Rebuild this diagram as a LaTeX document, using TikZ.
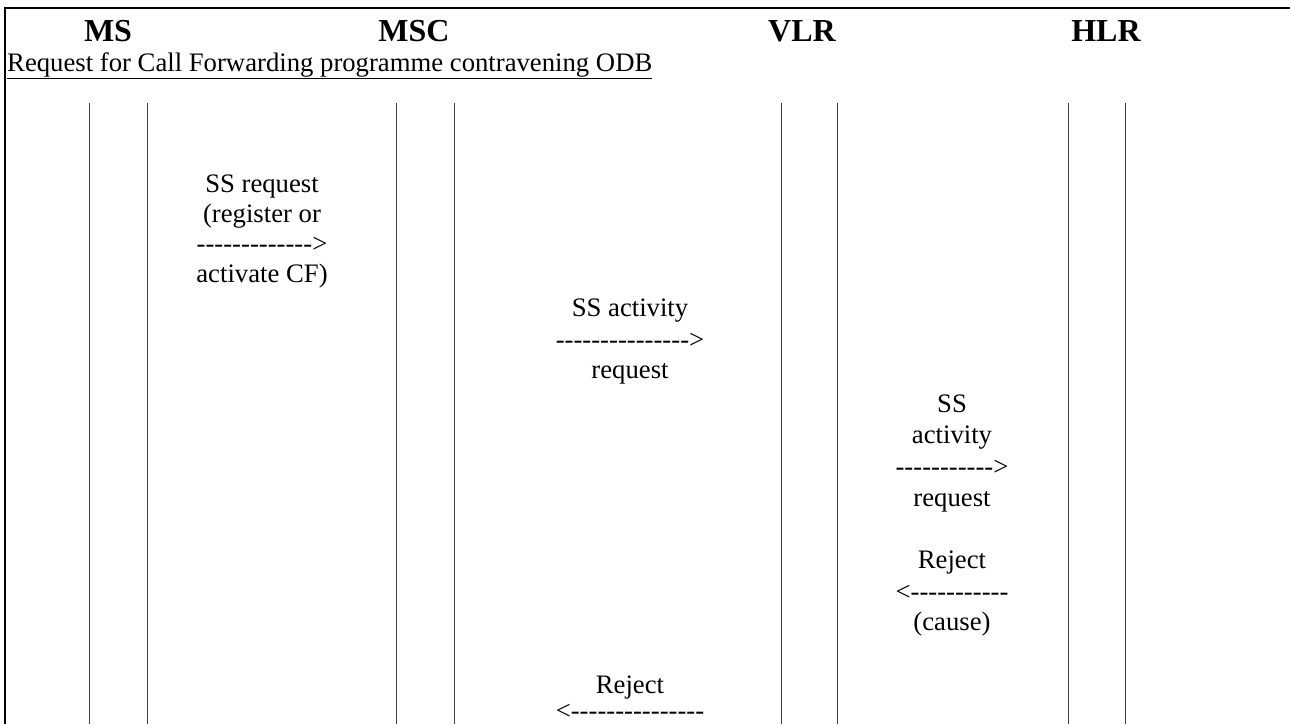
\documentclass[tikz,border=0pt]{standalone}
\usepackage{fontspec}
\setmainfont{Liberation Serif}
\newcommand\hyphs[1]{\foreach \i in {1,...,#1}{-\kern0pt}}
\begin{document}
\begin{tikzpicture}[x=1pt,y=-1pt,
  hdr/.style={font=\fontsize{32}{36}\selectfont\bfseries, anchor=base, inner sep=0pt},
  msg/.style={font=\fontsize{26.7}{31}\selectfont, anchor=base, inner sep=0pt},
  life/.style={line width=0.8pt, black!75},
  frame/.style={line width=2pt}]
\useasboundingbox (0,0) rectangle (1290,724);
% frame
\coordinate (fbl) at (5,724);
\coordinate (ftl) at (5,8);
\coordinate (ftr) at (1290,8);
\draw[frame] (fbl) -- (ftl) -- (ftr);
% headers
\node[hdr] (ms)  at (108,41) {MS};
\node[hdr] (msc) at (414,41) {MSC};
\node[hdr] (vlr) at (802,41) {VLR};
\node[hdr] (hlr) at (1106,41) {HLR};
\node[msg, anchor=base west] (title) at (7,71) {\underline{Request for Call Forwarding programme contravening ODB}};
% lifelines
\foreach \n/\x in {a/89,b/147,c/396,d/454,e/781,f/837,g/1068,h/1125}{
  \coordinate (\n top) at (\x,103);
  \coordinate (\n bot) at (\x,724);
  \draw[life] (\n top) -- (\n bot);
}
% message 1
\node[msg] (m1a) at (262,192) {SS request};
\node[msg] (m1b) at (262,222) {(register or};
\node[msg] (m1c) at (262,252) {\hyphs{13}>};
\node[msg] (m1d) at (262,282) {activate CF)};
% message 2
\node[msg] (m2a) at (630,316) {SS activity};
\node[msg] (m2b) at (630,348) {\hyphs{15}>};
\node[msg] (m2c) at (630,378) {request};
% message 3
\node[msg] (m3a) at (952,412) {SS};
\node[msg] (m3b) at (952,443) {activity};
\node[msg] (m3c) at (952,475) {\hyphs{11}>};
\node[msg] (m3d) at (952,506) {request};
% message 4
\node[msg] (m4a) at (952,568) {Reject};
\node[msg] (m4b) at (952,600) {<\hyphs{11}};
\node[msg] (m4c) at (952,630) {(cause)};
% message 5
\node[msg] (m5a) at (630,693) {Reject};
\node[msg] (m5b) at (630,719) {<\hyphs{15}};
\end{tikzpicture}
\end{document}
